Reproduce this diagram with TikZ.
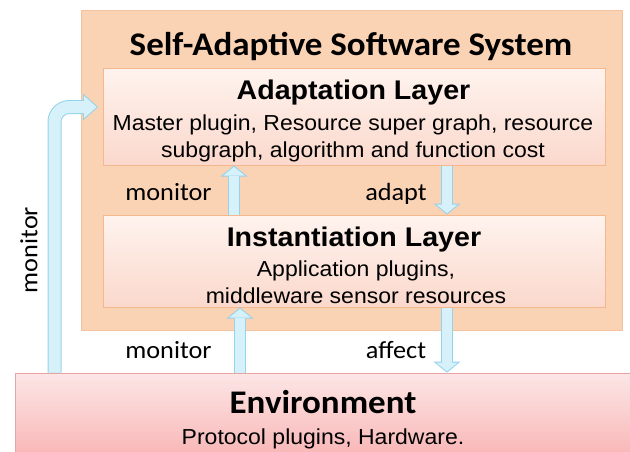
\documentclass[tikz,border=0pt]{standalone}
\usepackage{fontspec}
\setmainfont{Liberation Sans}[FakeStretch=1.06]
\newfontfamily\calfont{Carlito}[FakeStretch=1.06]
\usetikzlibrary{arrows.meta}

\definecolor{sysfill}{HTML}{FAD2B4}
\definecolor{sysedge}{HTML}{F3C29E}
\definecolor{layeredge}{HTML}{F5B88E}
\definecolor{layertop}{HTML}{FEF3EE}
\definecolor{layerbot}{HTML}{FBD8CC}
\definecolor{envedge}{HTML}{E8A4A4}
\definecolor{envtop}{HTML}{FDE6E6}
\definecolor{envbot}{HTML}{F8B4B4}
\definecolor{arrowedge}{HTML}{93D3EC}
\definecolor{arrowfill}{HTML}{D6F1FA}

\begin{document}
\begin{tikzpicture}
[
x=1pt, y=-1pt,
sysbox/.style={draw=sysedge, fill=sysfill, line width=0.6pt, inner sep=0},
layerbox/.style={draw=layeredge, line width=1pt, top color=layertop, bottom color=layerbot, inner sep=0, minimum width=502pt},
envbox/.style={draw=envedge, line width=0.8pt, top color=envtop, bottom color=envbot, inner sep=0},
systitle/.style={anchor=base, inner sep=0, font=\calfont\bfseries\fontsize{33}{38}\selectfont},
layertitle/.style={anchor=base, inner sep=0, font=\bfseries\fontsize{27}{32}\selectfont},
bodytext/.style={anchor=base, inner sep=0, align=center, font=\fontsize{21.7}{27}\selectfont},
flowlabel/.style={anchor=base, inner sep=0, font=\calfont\fontsize{24.8}{29}\selectfont},
fatout/.style={line width=12pt, draw=arrowedge, -{Triangle[length=11pt, width=27pt, line width=0pt]}},
fatin/.style={line width=10pt, draw=arrowfill, -{Triangle[length=8.7pt, width=21.4pt, line width=0pt]}, shorten >=1.3pt},
bigout/.style={line width=14pt, draw=arrowedge, rounded corners=15pt, -{Triangle[length=15pt, width=27pt, line width=0pt]}},
bigin/.style={line width=12pt, draw=arrowfill, rounded corners=15pt, -{Triangle[length=12.6pt, width=22.6pt, line width=0pt]}, shorten >=1.4pt}
]
\useasboundingbox (0,0) rectangle (630,451);

%Boxes
\node[sysbox, minimum width=541pt, minimum height=320pt] at(351.5,170)	(sys) {};
\node[layerbox, minimum height=97pt] at(354,116.5)	(adapt) {};
\node[layerbox, minimum height=92pt] at(354,261)	(inst) {};
\node[envbox, minimum width=630pt, minimum height=87pt] at(330,416.5)	(env) {};

%Texts (base of multi-line text = last line)
\node[systitle]		(t1) at(351,55) {Self-Adaptive Software System};
\node[layertitle]	(t2) at(353.5,99) {Adaptation Layer};
\node[bodytext]		(b2) at(353,157) {Master plugin, Resource super graph, resource\\subgraph, algorithm and function cost};
\node[layertitle]	(t3) at(354,246) {Instantiation Layer};
\node[bodytext]		(b3) at(356,303) {Application plugins,\\middleware sensor resources};
\node[systitle]		(t4) at(323,413) {Environment};
\node[bodytext]		(b4) at(323,444) {Protocol plugins, Hardware.};
\node[flowlabel]	(l1) at(168.5,200) {monitor};
\node[flowlabel]	(l2) at(396,200) {adapt};
\node[flowlabel]	(l3) at(168.5,358) {monitor};
\node[flowlabel]	(l4) at(396,358) {affect};
\node[flowlabel, anchor=center, rotate=90]	(l5) at(29,250) {monitor};

%Arrows
\coordinate (mtip) at(98,107);
\draw[bigout] ([xshift=-275.5pt]env.north) |- (mtip);
\draw[bigin] ([xshift=-275.5pt]env.north) |- (mtip);
\draw[fatout] ([xshift=-120pt]inst.north) -- ([xshift=-120pt]adapt.south);
\draw[fatin] ([xshift=-120pt]inst.north) -- ([xshift=-120pt]adapt.south);
\draw[fatout] ([xshift=93pt]adapt.south) -- ([xshift=93pt]inst.north);
\draw[fatin] ([xshift=93pt]adapt.south) -- ([xshift=93pt]inst.north);
\draw[fatout] ([xshift=-114pt]inst.south |- env.north) -- ([xshift=-114pt]inst.south);
\draw[fatin] ([xshift=-114pt]inst.south |- env.north) -- ([xshift=-114pt]inst.south);
\draw[fatout] ([xshift=93pt]inst.south) -- ([xshift=93pt]inst.south |- env.north);
\draw[fatin] ([xshift=93pt]inst.south) -- ([xshift=93pt]inst.south |- env.north);

\end{tikzpicture}
\end{document}
